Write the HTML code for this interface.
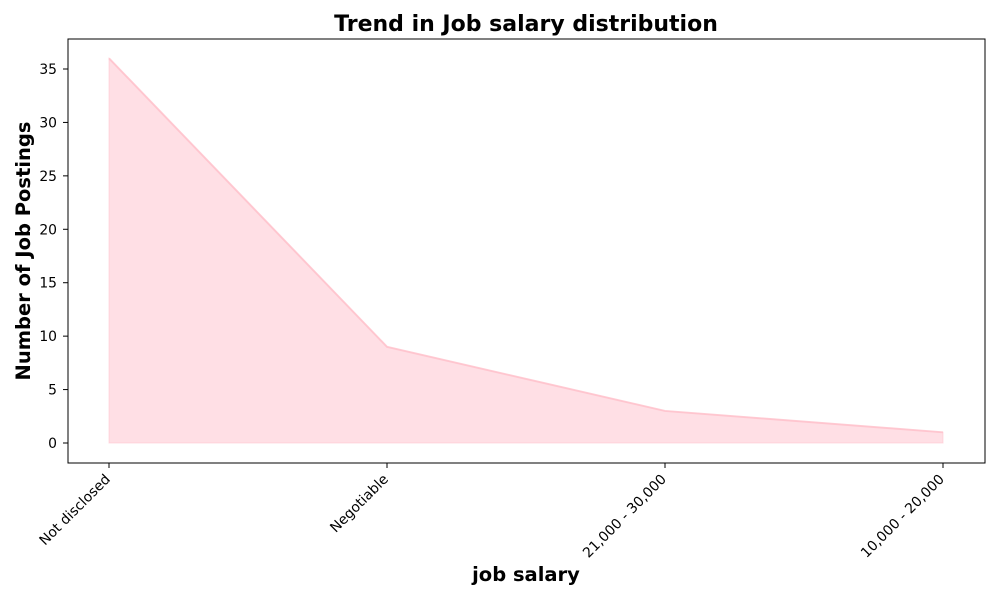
<!DOCTYPE html>
<html><head><meta charset="utf-8"><style>
body{margin:0;background:#fff;}
svg{font-family:"DejaVu Sans","Liberation Sans",sans-serif;}
</style></head><body>
<svg id="chart" width="1000" height="600" xmlns="http://www.w3.org/2000/svg">
<rect width="1000" height="600" fill="#fff"/>
<text x="526" y="31" text-anchor="middle" font-size="22" font-weight="bold">Trend in Job salary distribution</text>
<g id="plot"></g>
<rect x="68" y="39" width="917" height="424" fill="none" stroke="#000" stroke-width="1"/>
<text x="526" y="581" text-anchor="middle" font-size="19.5" font-weight="bold">job salary</text>
<text transform="translate(30,251) rotate(-90)" text-anchor="middle" font-size="19.5" font-weight="bold">Number of Job Postings</text>
</svg>
<script>
const categories=["Not disclosed","Negotiable","21,000 - 30,000","10,000 - 20,000"];
const counts=[36,9,3,1];
const yTicks=[0,5,10,15,20,25,30,35];
const NS="http://www.w3.org/2000/svg";
const g=document.getElementById('plot');
function xs(i){return 109+i*(943-109)/(categories.length-1);}
function ys(v){return 443-v*(443-69)/35;}
function mk(t,a){const e=document.createElementNS(NS,t);for(const k in a)e.setAttribute(k,a[k]);g.appendChild(e);return e;}
let d="M"+xs(0)+","+ys(0);
counts.forEach((v,i)=>{d+=" L"+xs(i)+","+ys(v);});
d+=" L"+xs(counts.length-1)+","+ys(0)+" Z";
const area=mk('path',{d:d,fill:'#ffc0cb','fill-opacity':0.5,stroke:'#ffc0cb','stroke-opacity':0.5});


const line=mk('polyline',{points:counts.map((v,i)=>xs(i)+","+ys(v)).join(" "),fill:'none',stroke:'#ffc0cb','stroke-width':2,'stroke-opacity':0.8});


yTicks.forEach(t=>{
 const y=ys(t);
 const tk=mk('line',{x1:63,x2:68,y1:y,y2:y,stroke:'#000'});
 
 
 const lb=mk('text',{x:57,y:y+5,'text-anchor':'end','font-size':13.9});
 lb.textContent=t;
 
 
});
categories.forEach((c,i)=>{
 const x=xs(i);
 const tk=mk('line',{x1:x,x2:x,y1:463,y2:468,stroke:'#000'});
 
 
 const lb=mk('text',{x:x+2,y:480,'text-anchor':'end','font-size':13.9,transform:'rotate(-45 '+(x+2)+' 480)'});
 lb.textContent=c;
 
 
});
</script>
</body></html>
